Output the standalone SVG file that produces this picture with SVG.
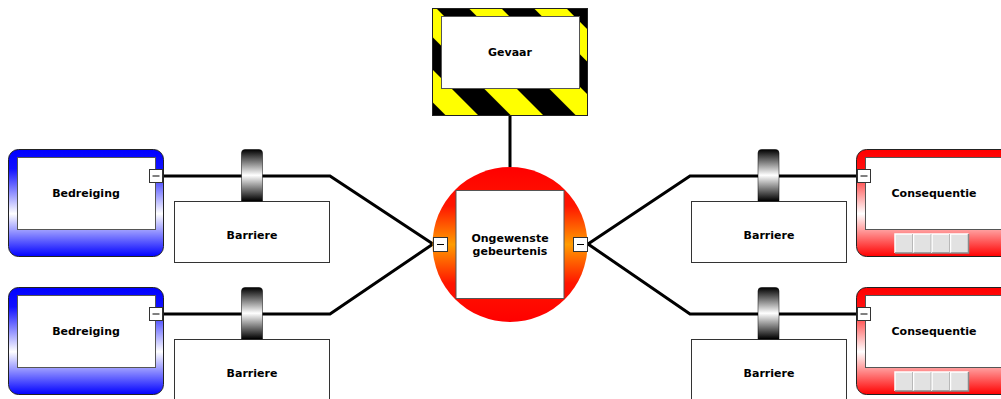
<svg xmlns="http://www.w3.org/2000/svg" width="1001" height="399" viewBox="0 0 1001 399">
<defs>
<linearGradient id="gBlue" x1="0" y1="0" x2="0" y2="1">
<stop offset="0" stop-color="#0000ff"/><stop offset="0.18" stop-color="#1010ff"/><stop offset="0.6" stop-color="#ffffff"/><stop offset="1" stop-color="#0000ff"/>
</linearGradient>
<linearGradient id="gRed" x1="0" y1="0" x2="0" y2="1">
<stop offset="0" stop-color="#ff0000"/><stop offset="0.18" stop-color="#ff1010"/><stop offset="0.6" stop-color="#ffffff"/><stop offset="1" stop-color="#ff0000"/>
</linearGradient>
<linearGradient id="gCirc" x1="0" y1="0" x2="0" y2="1">
<stop offset="0" stop-color="#ff0000"/><stop offset="0.25" stop-color="#ff1500"/><stop offset="0.5" stop-color="#ff9c00"/><stop offset="0.75" stop-color="#ff1500"/><stop offset="1" stop-color="#ff0000"/>
</linearGradient>
<linearGradient id="gBar" x1="0" y1="0" x2="0" y2="1">
<stop offset="0" stop-color="#000000"/><stop offset="0.5" stop-color="#ffffff"/><stop offset="1" stop-color="#000000"/>
</linearGradient>
<pattern id="stripes" patternUnits="userSpaceOnUse" width="46" height="46" patternTransform="translate(436 8) rotate(-45)">
<rect width="46" height="46" fill="#ffff00"/>
<rect width="23" height="46" fill="#000000"/>
</pattern>
<g id="btn">
<rect x="0" y="0" width="18" height="19" fill="#e2e2e2"/>
<path d="M0 19 V0 H18" fill="none" stroke="#ffffff" stroke-width="1.5"/>
<path d="M18 0 V19 H0" fill="none" stroke="#8a8a8a" stroke-width="1.5"/>
</g>
</defs>
<style>
.lbl{font-family:"DejaVu Sans","Liberation Sans",sans-serif;font-weight:bold;font-size:11px;fill:#000;text-anchor:middle}
.inner{fill:#fff;stroke:#555;stroke-width:1}
.outer{stroke:#222;stroke-width:1}
.conn{fill:none;stroke:#000;stroke-width:3}
.col{fill:#fff;stroke:#333;stroke-width:1}
.dash{stroke:#000;stroke-width:1}
.bar{fill:url(#gBar);stroke:#000;stroke-width:0.5}
.barbox{fill:#fff;stroke:#333;stroke-width:1}
</style>
<g id="connectors">
<line class="conn" x1="510" y1="116" x2="510" y2="167"/>
<polyline class="conn" points="163,176 330,176 433,244"/>
<polyline class="conn" points="163,314 330,314 433,244"/>
<polyline class="conn" points="857,176 690,176 588,244"/>
<polyline class="conn" points="857,314 690,314 588,244"/>
</g>
<g id="gevaar">
<rect class="outer" x="432.5" y="8.5" width="155" height="107" fill="url(#stripes)"/>
<rect class="inner" x="441.5" y="16.5" width="138" height="72"/>
<text class="lbl" x="510" y="56">Gevaar</text>
</g>
<g id="event">
<circle cx="510" cy="244.5" r="77.5" fill="url(#gCirc)"/>
<rect class="inner" x="456" y="190.5" width="108" height="108"/>
<text class="lbl" x="510" y="242">Ongewenste</text>
<text class="lbl" x="510" y="255">gebeurtenis</text>
<rect class="col" x="433.5" y="237.5" width="14" height="14"/>
<line class="dash" x1="437" y1="244.5" x2="444" y2="244.5"/>
<rect class="col" x="573.5" y="237.5" width="14" height="14"/>
<line class="dash" x1="577" y1="244.5" x2="584" y2="244.5"/>
</g>
<g id="threat1">
<rect class="outer" x="8.5" y="149.5" width="155" height="107" rx="10" fill="url(#gBlue)"/>
<rect class="inner" x="17.5" y="157.5" width="138" height="72"/>
<text class="lbl" x="86" y="197">Bedreiging</text>
<rect class="col" x="149.5" y="169.5" width="13" height="13"/>
<line class="dash" x1="152.5" y1="176" x2="159.5" y2="176"/>
</g>
<g id="threat2">
<rect class="outer" x="8.5" y="287.5" width="155" height="107" rx="10" fill="url(#gBlue)"/>
<rect class="inner" x="17.5" y="295.5" width="138" height="72"/>
<text class="lbl" x="86" y="335">Bedreiging</text>
<rect class="col" x="149.5" y="307.5" width="13" height="13"/>
<line class="dash" x1="152.5" y1="314" x2="159.5" y2="314"/>
</g>
<g id="barrier1">
<rect class="barbox" x="174.5" y="201.5" width="155" height="61"/>
<path class="bar" d="M241.5 201 V153 Q241.5 149.5 245 149.5 H259 Q262.5 149.5 262.5 153 V201 Z"/>
<text class="lbl" x="252" y="239">Barriere</text>
</g>
<g id="barrier2">
<rect class="barbox" x="174.5" y="339.5" width="155" height="61"/>
<path class="bar" d="M241.5 339 V291 Q241.5 287.5 245 287.5 H259 Q262.5 287.5 262.5 291 V339 Z"/>
<text class="lbl" x="252" y="377">Barriere</text>
</g>
<g id="barrier3">
<rect class="barbox" x="691.5" y="201.5" width="155" height="61"/>
<path class="bar" d="M758 201 V153 Q758 149.5 761.5 149.5 H775.5 Q779 149.5 779 153 V201 Z"/>
<text class="lbl" x="769" y="239">Barriere</text>
</g>
<g id="barrier4">
<rect class="barbox" x="691.5" y="339.5" width="155" height="61"/>
<path class="bar" d="M758 339 V291 Q758 287.5 761.5 287.5 H775.5 Q779 287.5 779 291 V339 Z"/>
<text class="lbl" x="769" y="377">Barriere</text>
</g>
<g id="consequence1">
<rect class="outer" x="856.5" y="149.5" width="155" height="107" rx="10" fill="url(#gRed)"/>
<rect class="inner" x="865.5" y="157.5" width="138" height="72"/>
<text class="lbl" x="934" y="197">Consequentie</text>
<use href="#btn" x="895" y="234"/><use href="#btn" x="913.5" y="234"/><use href="#btn" x="932" y="234"/><use href="#btn" x="950.5" y="234"/>
<rect class="col" x="857.5" y="169.5" width="13" height="13"/>
<line class="dash" x1="860.5" y1="176" x2="867.5" y2="176"/>
</g>
<g id="consequence2">
<rect class="outer" x="856.5" y="287.5" width="155" height="107" rx="10" fill="url(#gRed)"/>
<rect class="inner" x="865.5" y="295.5" width="138" height="72"/>
<text class="lbl" x="934" y="335">Consequentie</text>
<use href="#btn" x="895" y="372"/><use href="#btn" x="913.5" y="372"/><use href="#btn" x="932" y="372"/><use href="#btn" x="950.5" y="372"/>
<rect class="col" x="857.5" y="307.5" width="13" height="13"/>
<line class="dash" x1="860.5" y1="314" x2="867.5" y2="314"/>
</g>
</svg>
